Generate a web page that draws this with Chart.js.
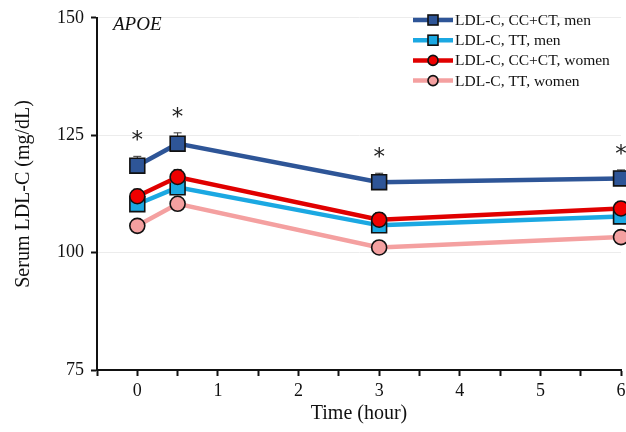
<!DOCTYPE html>
<html><head><meta charset="utf-8">
<script src="https://cdn.jsdelivr.net/npm/chart.js@4.4.1/dist/chart.umd.min.js"></script>
<style>html,body{margin:0;padding:0;background:#fff}#wrap{width:626px;height:432px}</style>
</head><body><div id="wrap"><canvas id="c" width="626" height="432"></canvas></div>
<script>
const times = [0, 0.5, 3, 6];
const seriesLabels = ["LDL-C, CC+CT, men", "LDL-C, TT, men", "LDL-C, CC+CT, women", "LDL-C, TT, women"];
const ccctMen = [118.5, 123.2, 115.0, 115.8];
const ttMen = [110.3, 113.9, 105.8, 107.7];
const ccctWomen = [112.0, 116.1, 107.0, 109.4];
const ttWomen = [105.7, 110.4, 101.1, 103.3];
const errCcctMen = [2.0, 2.3, 1.9, 1.8];
const errTtMen = [1.5, 1.6, 1.4, 1.4];
const errCcctWomen = [1.5, 1.6, 1.5, 1.5];
const errTtWomen = [1.2, 1.3, 1.2, 1.2];
const sigTimes = [0, 0.5, 3, 6];
const yTicks = [75, 100, 125, 150];

const FONT = "'Liberation Serif','Times New Roman',serif";
const pts = (arr) => times.map((t, i) => ({x: t, y: arr[i]}));

const styles = [
  {color: '#2E5597', fill: '#2E5597', shape: 'rect', r: 10.5},
  {color: '#1BA8E2', fill: '#1BA8E2', shape: 'rect', r: 10.5},
  {color: '#E00000', fill: '#F00000', shape: 'circle', r: 7.5},
  {color: '#F4A0A0', fill: '#F4A0A0', shape: 'circle', r: 7.5}
];
const values = [ccctMen, ttMen, ccctWomen, ttWomen];
const errs = [errCcctMen, errTtMen, errCcctWomen, errTtWomen];

const drawOrder = [3, 1, 2, 0]; // series indices from bottom to top
const datasets = values.map((v, k) => ({
  label: seriesLabels[k],
  data: pts(v),
  borderColor: styles[k].color,
  backgroundColor: styles[k].fill,
  borderWidth: 4.5,
  pointStyle: styles[k].shape,
  pointRadius: styles[k].r,
  pointHoverRadius: styles[k].r,
  pointBorderColor: '#111',
  pointBorderWidth: 1.6,
  pointBackgroundColor: styles[k].fill,
  tension: 0,
  clip: false,
  order: 3 - drawOrder.indexOf(k),
  errs: errs[k]
}));

const extras = {
  id: 'extras',
  beforeDatasetsDraw(chart) {
    const ctx = chart.ctx, xs = chart.scales.x, ys = chart.scales.y;
    ctx.save();
    chart.data.datasets.forEach(ds => {
      ctx.strokeStyle = ds.borderColor === '#F4A0A0' ? '#d08080' : '#333';
      ctx.lineWidth = 1;
      ds.data.forEach((p, i) => {
        const x = xs.getPixelForValue(p.x);
        const y0 = ys.getPixelForValue(p.y);
        const y1 = ys.getPixelForValue(p.y + ds.errs[i]);
        ctx.beginPath();
        ctx.moveTo(x, y0); ctx.lineTo(x, y1);
        ctx.moveTo(x - 4, y1); ctx.lineTo(x + 4, y1);
        ctx.stroke();
      });
    });
    ctx.restore();
  },
  afterDraw(chart) {
    const ctx = chart.ctx, xs = chart.scales.x, ys = chart.scales.y;
    ctx.save();
    // asterisks
    ctx.fillStyle = '#222';
    ctx.font = "23px 'DejaVu Sans', sans-serif";
    ctx.textAlign = 'center';
    ctx.textBaseline = 'middle';
    sigTimes.forEach(t => {
      const i = times.indexOf(t);
      const x = xs.getPixelForValue(t);
      const y = ys.getPixelForValue(ccctMen[i] + errCcctMen[i]) - 19;
      ctx.fillText('*', x, y + 4);
    });
    // APOE label
    ctx.font = "italic 19px " + FONT;
    ctx.textAlign = 'left';
    ctx.fillStyle = '#111';
    ctx.fillText('APOE', 113, 25);
    // legend
    ctx.font = "15.5px " + FONT;
    chart.data.datasets.forEach((ds, k) => {
      const y = 20 + k * 20.2;
      ctx.strokeStyle = ds.borderColor;
      ctx.lineWidth = 4.5;
      ctx.beginPath(); ctx.moveTo(413, y); ctx.lineTo(453, y); ctx.stroke();
      ctx.fillStyle = ds.pointBackgroundColor;
      ctx.strokeStyle = '#111';
      ctx.lineWidth = 1.6;
      if (ds.pointStyle === 'rect') {
        ctx.fillRect(428, y - 5, 10, 10);
        ctx.strokeRect(428, y - 5, 10, 10);
      } else {
        ctx.beginPath(); ctx.arc(433, y, 5, 0, Math.PI * 2); ctx.fill(); ctx.stroke();
      }
      ctx.fillStyle = '#111';
      ctx.textBaseline = 'middle';
      ctx.fillText(ds.label, 455, y + 1);
    });
    ctx.restore();
  }
};

new Chart(document.getElementById('c'), {
  type: 'line',
  data: {datasets},
  options: {
    responsive: false,
    animation: false,
    events: [],
    layout: {autoPadding: false, padding: {top: 16, right: 5, left: 0, bottom: 0}},
    plugins: {legend: {display: false}, tooltip: {enabled: false}},
    scales: {
      x: {
        type: 'linear', min: -0.5, max: 6,
        afterBuildTicks(s) { s.ticks = []; for (let v = -0.5; v <= 6.001; v += 0.5) s.ticks.push({value: v}); },
        afterFit(s) { s.height = 62; s.paddingLeft = 0; s.paddingRight = 0; },
        ticks: {
          autoSkip: false, maxRotation: 0, color: '#111', padding: 4,
          font: {family: FONT, size: 18},
          callback: v => (Number.isInteger(v) && v >= 0) ? String(v) : ''
        },
        grid: {drawOnChartArea: false, drawTicks: true, tickLength: 6, tickColor: '#111', tickWidth: 2},
        border: {color: '#111', width: 2},
        title: {display: true, text: 'Time (hour)', color: '#111', font: {family: FONT, size: 20}, padding: {top: 0, bottom: 6}}
      },
      y: {
        type: 'linear', min: 75, max: 150,
        afterBuildTicks(s) { s.ticks = yTicks.map(v => ({value: v})); },
        afterFit(s) { s.width = 97; },
        ticks: {color: '#111', padding: 7, font: {family: FONT, size: 18}},
        grid: {color: '#ececec', lineWidth: 1, drawTicks: true, tickLength: 6, tickColor: '#111', tickWidth: 2},
        border: {color: '#111', width: 2},
        title: {display: true, text: 'Serum LDL-C (mg/dL)', color: '#111', font: {family: FONT, size: 20}, padding: {top: 12, bottom: 0}}
      }
    }
  },
  plugins: [extras]
});
</script></body></html>
